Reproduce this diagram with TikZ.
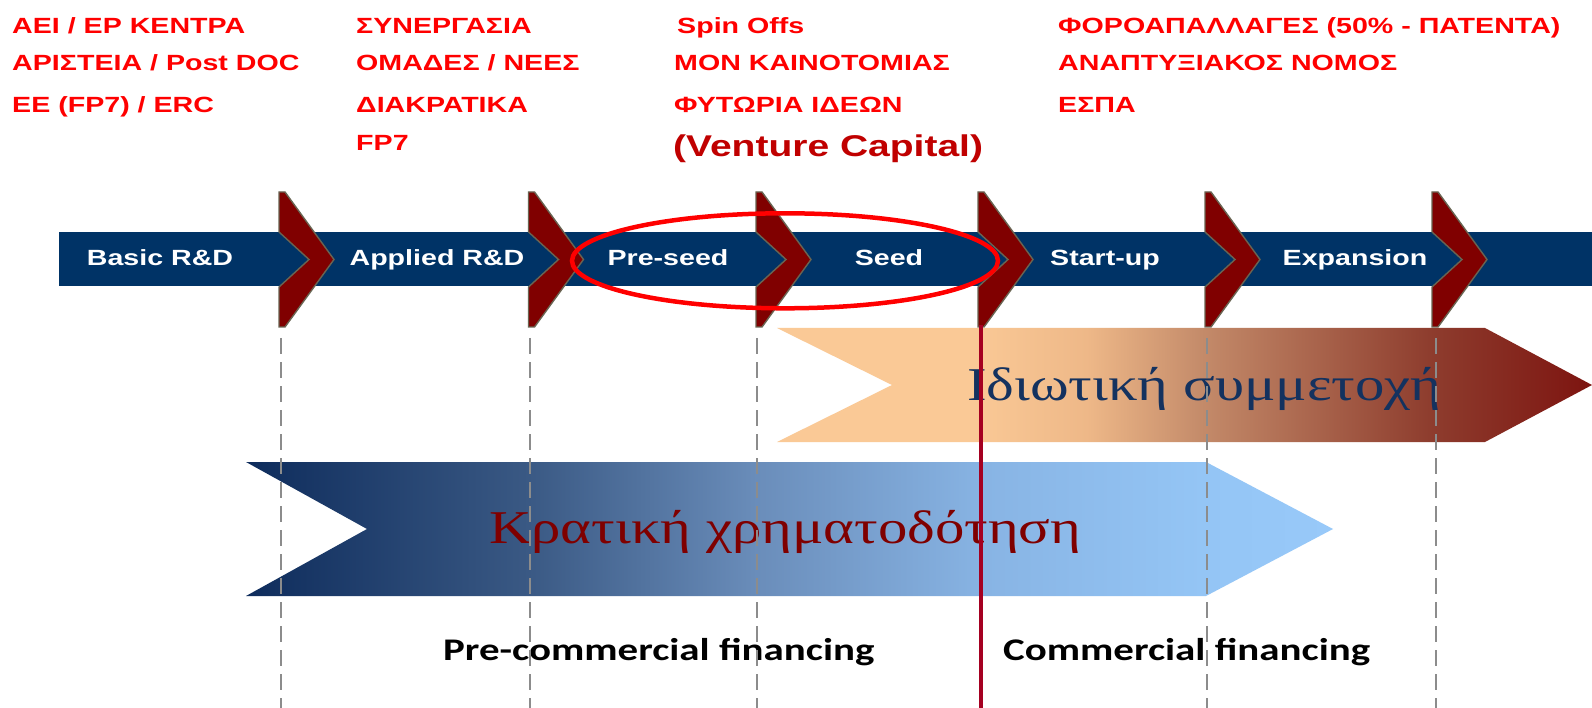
\documentclass[tikz,border=0pt]{standalone}
\usepackage{fontspec}
\setmainfont{Liberation Sans}
\newfontfamily\sansW[FakeStretch=1.3]{Liberation Sans}
\newfontfamily\calW[FakeStretch=1.3]{Carlito}
\newfontfamily\serW[FakeStretch=1.25]{Liberation Serif}
\definecolor{barblue}{RGB}{0,51,102}
\definecolor{chevred}{RGB}{128,0,0}
\definecolor{chevedge}{RGB}{105,100,82}
\definecolor{vcred}{RGB}{192,0,0}
\definecolor{vline}{RGB}{165,0,33}
\definecolor{dashgray}{RGB}{140,140,140}
\definecolor{navytxt}{RGB}{20,50,95}
\definecolor{maroontxt}{RGB}{127,0,0}
\definecolor{peach}{RGB}{250,201,150}
\definecolor{peachB}{RGB}{238,184,136}
\definecolor{tanC}{RGB}{196,139,106}
\definecolor{brownD}{RGB}{142,61,46}
\definecolor{darkE}{RGB}{125,20,16}
\definecolor{bA}{RGB}{14,44,92}
\definecolor{bB}{RGB}{58,89,132}
\definecolor{bC}{RGB}{106,141,186}
\definecolor{bD}{RGB}{136,180,228}
\definecolor{bE}{RGB}{148,197,245}
\definecolor{bF}{RGB}{152,201,249}
\pgfdeclarehorizontalshading{orangesh}{100bp}{color(0bp)=(peach); color(25bp)=(peach); color(37bp)=(peach); color(44bp)=(peachB); color(51bp)=(tanC); color(65bp)=(brownD); color(75bp)=(darkE); color(100bp)=(darkE)}
\pgfdeclarehorizontalshading{bluesh}{100bp}{color(0bp)=(bA); color(25bp)=(bA); color(38bp)=(bB); color(48.5bp)=(bC); color(59bp)=(bD); color(69bp)=(bE); color(75bp)=(bF); color(100bp)=(bF)}
\begin{document}
\begin{tikzpicture}[x=1pt,y=-1pt,
  redtxt/.style={anchor=base west, inner sep=0pt, text=red, font=\sansW\bfseries\fontsize{22}{26}\selectfont},
  vctxt/.style={anchor=base west, inner sep=0pt, text=vcred, font=\sansW\bfseries\fontsize{30}{34}\selectfont},
  bartxt/.style={anchor=base, inner sep=0pt, text=white, font=\sansW\bfseries\fontsize{22}{26}\selectfont},
  bigtxt/.style={anchor=base west, inner sep=0pt, font=\serW\fontsize{47}{52}\selectfont},
  fintxt/.style={anchor=base west, inner sep=0pt, text=black, font=\calW\bfseries\fontsize{31.5}{36}\selectfont},
  chevshape/.style={fill=chevred, draw=chevedge, line width=1.4pt, line join=miter},
  dashline/.style={draw=dashgray, line width=2pt, dash pattern=on 16pt off 8pt},
  redline/.style={draw=vline, line width=4pt},
  ring/.style={draw=red, line width=4.5pt}
]
\useasboundingbox (0,0) rectangle (1592,708);
\fill[white] (0,0) rectangle (1592,708);

% top texts
\node[redtxt] (c1a) at (12,33.3) {ΑΕΙ / ΕΡ ΚΕΝΤΡΑ};
\node[redtxt] (c1b) at (12,71) {ΑΡΙΣΤΕΙΑ / Post DOC};
\node[redtxt] (c1c) at (12,113) {ΕΕ (FP7) / ERC};
\node[redtxt] (c2a) at (356,33.3) {ΣΥΝΕΡΓΑΣΙΑ};
\node[redtxt] (c2b) at (356,71) {ΟΜΑΔΕΣ / ΝΕΕΣ};
\node[redtxt] (c2c) at (356,113) {ΔΙΑΚΡΑΤΙΚΑ};
\node[redtxt] (c2d) at (356,151) {FP7};
\node[redtxt] (c3a) at (677,33.3) {Spin Offs};
\node[redtxt] (c3b) at (674,71) {ΜΟΝ ΚΑΙΝΟΤΟΜΙΑΣ};
\node[redtxt] (c3c) at (674,113) {ΦΥΤΩΡΙΑ ΙΔΕΩΝ};
\node[vctxt] (c3d) at (673,157) {(Venture Capital)};
\node[redtxt] (c4a) at (1058,33.3) {ΦΟΡΟΑΠΑΛΛΑΓΕΣ (50\% - ΠΑΤΕΝΤΑ)};
\node[redtxt] (c4b) at (1058,71) {ΑΝΑΠΤΥΞΙΑΚΟΣ ΝΟΜΟΣ};
\node[redtxt] (c4c) at (1058,113) {ΕΣΠΑ};

% stage bar
\fill[barblue] (59,231.7) rectangle (1592,286);
\foreach \L in {279,528.5,756,978,1205,1432}{
  \draw[chevshape] (\L,192) -- ++(6,0) -- ++(49,67.5) -- ++(-49,67.5) -- ++(-6,0)
    -- ++(0,-40) -- ++(30,-27.5) -- ++(-30,-27.5) -- cycle;
}
\node[bartxt] (s1) at (160,266) {Basic R\&D};
\node[bartxt] (s2) at (437,266) {Applied R\&D};
\node[bartxt] (s3) at (668,266) {Pre-seed};
\node[bartxt] (s4) at (889,266) {Seed};
\node[bartxt] (s5) at (1105,266) {Start-up};
\node[bartxt] (s6) at (1355,266) {Expansion};
\draw[ring] (785,260.8) ellipse [x radius=213, y radius=47.5];

% big arrows
\shade[shading=orangesh] (777,328) -- (1485,328) -- (1592,385) -- (1485,442) -- (777,442) -- (892,385) -- cycle;
\shade[shading=bluesh] (246,462) -- (1206,462) -- (1333,529) -- (1206,596) -- (246,596) -- (367,529) -- cycle;
\node[bigtxt, text=navytxt] (priv) at (967,400) {Ιδιωτική συμμετοχή};
\node[bigtxt, text=maroontxt] (state) at (489,543) {Κρατική χρηματοδότηση};

% bottom labels
\node[fintxt] (pre) at (443,660) {Pre-commercial financing};
\node[fintxt] (com) at (1003,660) {Commercial financing};

% vertical lines
\foreach \X [count=\i] in {280.5,529.5,757,1206.5,1436}{
  \coordinate (dt\i) at (\X,338);
  \coordinate (db\i) at (\X,708);
  \draw[dashline] (dt\i) -- (db\i);
}
\coordinate (rt) at (981,325);
\coordinate (rb) at (981,708);
\draw[redline] (rt) -- (rb);
\end{tikzpicture}
\end{document}
